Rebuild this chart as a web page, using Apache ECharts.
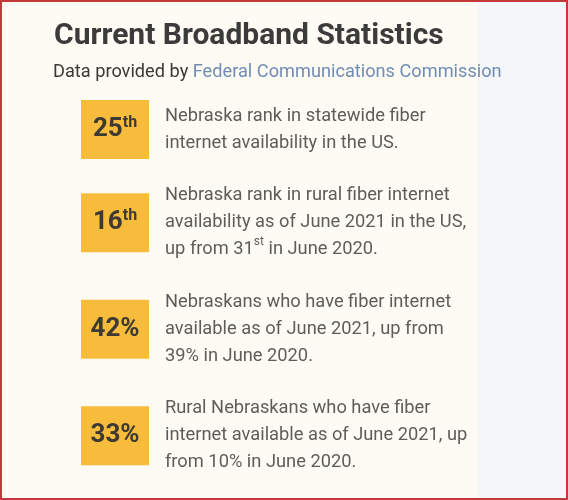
<!DOCTYPE html>
<html>
<head>
<meta charset="utf-8">
<script src="https://cdn.jsdelivr.net/npm/echarts@6/dist/echarts.min.js"></script>
<style>
  html, body { margin: 0; padding: 0; }
  body {
    width: 568px; height: 500px; box-sizing: border-box;
    border: 2px solid #c4383c;
    background: linear-gradient(to right, #fdfbf3 0, #fdfbf3 478px, #f4f6f9 478px, #f4f6f9 100%);
    overflow: hidden;
  }
  #chart { width: 564px; height: 496px; }
</style>
</head>
<body>
<div id="chart"></div>
<script>
// ---- data ----
const titleText = 'Current Broadband Statistics';
const sourcePrefix = 'Data provided by ';
const sourceName = 'Federal Communications Commission';

const statValues = ['25', '16', '42%', '33%'];
const statSuffixes = ['th', 'th', '', ''];
// ^...^ marks superscript text
const statDescriptions = [
  ['Nebraska rank in statewide fiber', 'internet availability in the US.'],
  ['Nebraska rank in rural fiber internet', 'availability as of June 2021 in the US,', 'up from 31^st^ in June 2020.'],
  ['Nebraskans who have fiber internet', 'available as of June 2021, up from', '39% in June 2020.'],
  ['Rural Nebraskans who have fiber', 'internet available as of June 2021, up', 'from 10% in June 2020.']
];

// ---- layout helpers (rows stacked by number of text lines) ----
const GAP_LINES = 1;
const rowCenters = [];
let cursor = 0;
statDescriptions.forEach(function (lines) {
  rowCenters.push(cursor + lines.length / 2);
  cursor += lines.length + GAP_LINES;
});

function toRich(line) {
  return line.split('^').map(function (part, i) {
    if (!part) return '';
    return (i % 2 ? '{u|' : '{t|') + part + '}';
  }).join('');
}

const boxData = statValues.map(function (v, i) {
  return { value: [0, rowCenters[i]], stat: v, suffix: statSuffixes[i] };
});
const textData = statDescriptions.map(function (lines, i) {
  return { value: [0, rowCenters[i]], text: lines.map(toRich).join('\n') };
});

const FONT = 'Roboto';
const chart = echarts.init(document.getElementById('chart'), null, { renderer: 'canvas' });
chart.setOption({
  backgroundColor: 'transparent',
  animation: false,
  title: [
    {
      text: titleText,
      left: 47, top: 14,
      textStyle: { fontFamily: FONT, fontWeight: 'bold', fontSize: 30, color: '#3b3b3b' }
    },
    {
      text: '{a|' + sourcePrefix + '}{b|' + sourceName + '}',
      left: 46, top: 56,
      textStyle: {
        fontWeight: 'normal',
        rich: {
          a: { fontFamily: FONT, fontWeight: 'normal', fontSize: 18.2, color: '#383838' },
          b: { fontFamily: FONT, fontWeight: 'normal', fontSize: 18.2, color: '#6f8db4' }
        }
      }
    }
  ],
  grid: { left: 113, right: 0, top: 101, height: 372.7 },
  xAxis: { type: 'value', min: 0, max: 1, show: false },
  yAxis: { type: 'value', min: 0, max: 14, inverse: true, show: false },
  series: [
    {
      type: 'scatter',
      silent: true,
      symbol: 'rect',
      symbolSize: [68, 59],
      itemStyle: { color: '#f8bc3c', opacity: 1 },
      data: boxData,
      label: {
        show: true,
        position: 'inside',
        formatter: function (p) {
          return '{n|' + p.data.stat + '}' + (p.data.suffix ? '{s|' + p.data.suffix + '}' : '');
        },
        rich: {
          n: { fontFamily: FONT, fontWeight: 'bold', fontSize: 26, lineHeight: 30, color: '#3d3a34' },
          s: { fontFamily: FONT, fontWeight: 'bold', fontSize: 16, lineHeight: 16, verticalAlign: 'top', color: '#3d3a34' }
        }
      },
      z: 2
    },
    {
      type: 'scatter',
      silent: true,
      symbol: 'rect',
      symbolSize: [68, 59],
      itemStyle: { color: 'rgba(0,0,0,0)' },
      data: textData,
      label: {
        show: true,
        position: 'right',
        distance: 16,
        align: 'left',
        verticalAlign: 'middle',
        formatter: function (p) { return p.data.text; },
        rich: {
          t: { fontFamily: FONT, fontSize: 18.3, lineHeight: 27, color: '#353535' },
          u: { fontFamily: FONT, fontSize: 12, lineHeight: 12, verticalAlign: 'top', color: '#353535' }
        }
      },
      z: 1
    }
  ]
});
</script>
</body>
</html>
